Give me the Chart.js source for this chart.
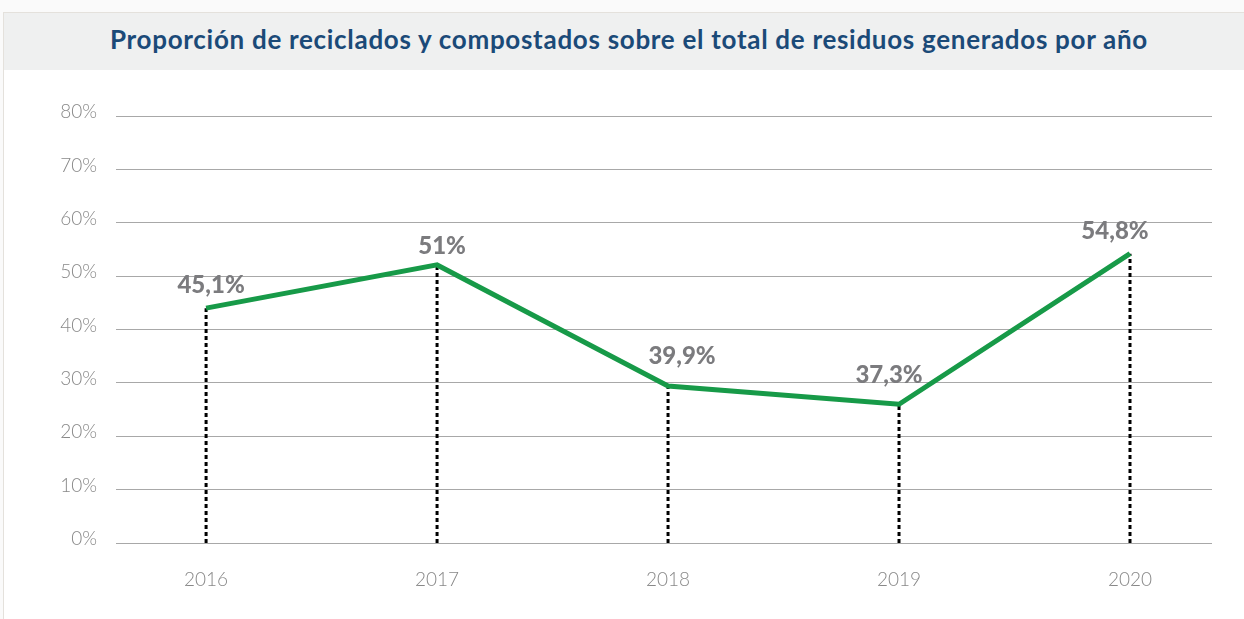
<!DOCTYPE html>
<html>
<head>
<meta charset="utf-8">
<script src="https://cdn.jsdelivr.net/npm/chart.js@4"></script>
<style>
  html, body { margin: 0; padding: 0; background: #fafafa; }
  body { width: 1244px; height: 619px; position: relative; overflow: hidden; font-family: Lato, "Open Sans", sans-serif; }
  #card { position: absolute; left: 3px; top: 12px; width: 1250px; height: 620px; background: #fff; border: 1px solid #e4e1dc; }
  #title { height: 57px; background: #eff0f0; color: #1b4a78; font-weight: bold; font-size: 26px; line-height: 53px; text-align: center; letter-spacing: 0.7px; }
  #wrap { position: absolute; left: 0; top: 70px; width: 1244px; height: 549px; }
</style>
</head>
<body>
<div id="card"><div id="title">Proporción de reciclados y compostados sobre el total de residuos generados por año</div></div>
<div id="wrap"><canvas id="myChart" width="1244" height="549"></canvas></div>
<script>
const years = [2016, 2017, 2018, 2019, 2020];
// where the line is drawn in the picture (%)
const plotted = [44.0, 52.1, 29.4, 26.0, 54.2];
// the labels printed above each point
const labels = ["45,1%", "51%", "39,9%", "37,3%", "54,8%"];
const yTicks = [0, 10, 20, 30, 40, 50, 60, 70, 80];

// nudges for the labels, in pixels
const labelShift = [5, 5, 14, -10, -15];
const labelRise = [23, 19, 30, 29, 22];

const valueLabels = {
  id: "valueLabels",
  afterDatasetsDraw(chart) {
    const ctx = chart.ctx;
    const meta = chart.getDatasetMeta(0);
    ctx.save();
    ctx.font = "900 24px Lato, sans-serif";
    ctx.fillStyle = "#7b7b7e";
    ctx.textAlign = "center";
    ctx.textBaseline = "middle";
    meta.data.forEach((pt, i) => {
      ctx.fillText(labels[i], pt.x + labelShift[i], pt.y - labelRise[i]);
    });
    ctx.restore();
  },
};

const dropLines = years.map((yr, i) => ({
  data: [{ x: yr, y: 0 }, { x: yr, y: plotted[i] }],
  borderColor: "#000",
  borderWidth: 3,
  borderDash: [4, 3],
  pointRadius: 0,
  order: 2,
}));

const ctx = document.getElementById("myChart").getContext("2d");
Chart.defaults.font.family = "Lato, sans-serif";
const myChart = new Chart(ctx, {
  type: "line",
  data: {
    datasets: [
      {
        data: years.map((yr, i) => ({ x: yr, y: plotted[i] })),
        borderColor: "#179a48",
        borderWidth: 5,
        pointRadius: 0,
        tension: 0,
        order: 1,
      },
      ...dropLines,
    ],
  },
  options: {
    responsive: false,
    animation: false,
    layout: { padding: { left: 0, right: 32, top: 46, bottom: 0 } },
    plugins: { legend: { display: false }, tooltip: { enabled: false } },
    scales: {
      x: {
        type: "linear",
        min: 2015.61,
        max: 2020.355,
        afterBuildTicks: (scale) => {
          scale.ticks = years.map((v) => ({ value: v }));
        },
        afterFit: (scale) => {
          scale.height = 76;
        },
        grid: { display: false },
        border: { display: false },
        ticks: {
          padding: 17,
          color: "#888888",
          font: { size: 19, weight: 300 },
          callback: (v) => String(v),
        },
      },
      y: {
        min: 0,
        max: 80,
        afterBuildTicks: (scale) => {
          scale.ticks = yTicks.map((v) => ({ value: v }));
        },
        afterFit: (scale) => {
          scale.width = 116;
        },
        grid: { color: "#a8a8a8", lineWidth: 1, drawTicks: false },
        border: { display: false },
        ticks: {
          padding: 19,
          labelOffset: -4,
          color: "#888888",
          font: { size: 19, weight: 300 },
          callback: (v) => v + "%",
        },
      },
    },
  },
  plugins: [valueLabels],
});
</script>
</body>
</html>
